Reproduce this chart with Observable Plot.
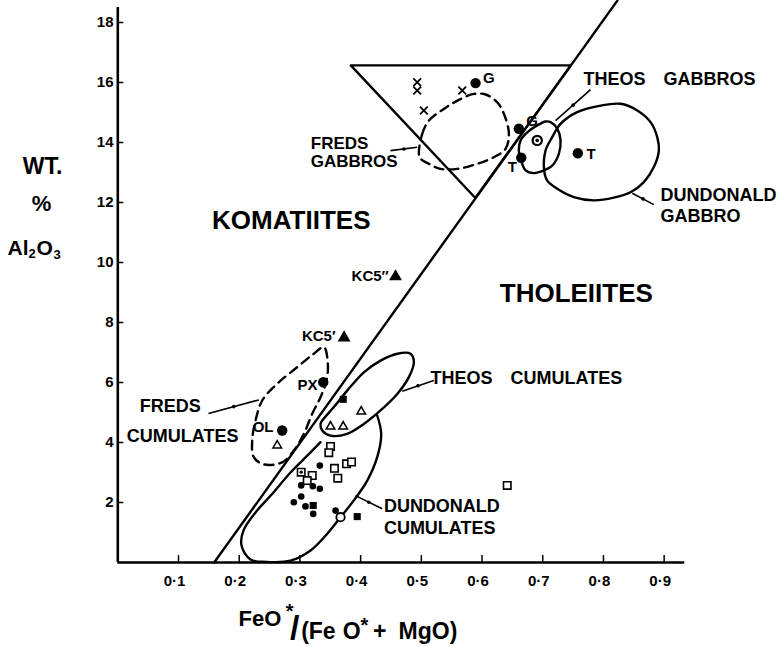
<!DOCTYPE html>
<html><head><meta charset="utf-8">
<script src="https://cdn.jsdelivr.net/npm/d3@7"></script>
<script src="https://cdn.jsdelivr.net/npm/@observablehq/plot@0.6"></script>
<style>body{margin:0;background:#fff}svg{display:block}</style>
</head><body><div id="chart"></div>
<script>
// ---- axes
const xTicks = [0.1,0.2,0.3,0.4,0.5,0.6,0.7,0.8,0.9];
const yTicks = [2,4,6,8,10,12,14,16,18];

// ---- discriminant line and gabbro triangle
const boundaryLine = [[0.1587,0],[0.823,18.73]];
const gabbroTriangle = [[0.3838,16.57],[0.7463,16.57],[0.589,12.15]];

// ---- field outlines [FeO*/(FeO*+MgO), Al2O3]
const fredsGabbros = [[0.496,13.62],[0.5015,14.29],[0.5124,14.73],[0.537,15.12],[0.5618,15.42],[0.5865,15.62],[0.6058,15.6],[0.625,15.34],[0.6371,14.9],[0.6442,14.29],[0.6387,13.79],[0.6195,13.51],[0.5921,13.29],[0.5591,13.12],[0.5316,13.12],[0.5124,13.29],[0.4987,13.46]];
const theosGabbros = [[0.7128,14.68],[0.7239,14.46],[0.7293,14.07],[0.7265,13.62],[0.7157,13.23],[0.7018,13.07],[0.6853,12.98],[0.6717,13.07],[0.6662,13.29],[0.6606,13.73],[0.6634,14.07],[0.6745,14.34],[0.6909,14.57],[0.7046,14.7]];
const dundonaldGabbro = [[0.7023,13.07],[0.7046,13.73],[0.7156,14.18],[0.7293,14.62],[0.7568,15.01],[0.7952,15.23],[0.8282,15.29],[0.8557,15.07],[0.8776,14.68],[0.8886,14.18],[0.8913,13.73],[0.883,13.18],[0.8666,12.68],[0.8446,12.34],[0.8171,12.16],[0.7842,12.07],[0.7512,12.18],[0.7239,12.46],[0.7074,12.73]];
const fredsCumulates = [[0.3394,7.18],[0.346,6.62],[0.3438,6.07],[0.3339,5.51],[0.3203,4.96],[0.3065,4.29],[0.2899,3.73],[0.2708,3.34],[0.2405,3.27],[0.224,3.51],[0.2214,4.07],[0.2269,4.73],[0.2379,5.4],[0.2626,5.96],[0.2955,6.51],[0.3229,6.96]];
const theosCumulates = [[0.3367,4.73],[0.3559,5.18],[0.3779,5.73],[0.4053,6.34],[0.4328,6.73],[0.4603,6.96],[0.4822,6.96],[0.4877,6.68],[0.4795,6.18],[0.4603,5.62],[0.4328,5.07],[0.4053,4.62],[0.3779,4.29],[0.3504,4.23],[0.3367,4.4],[0.3339,4.62]];
const dundonaldCumulates = [[0.4273,4.9],[0.4339,4.29],[0.4273,3.51],[0.4109,2.73],[0.3888,2.07],[0.3669,1.51],[0.345,0.96],[0.3175,0.4],[0.2845,0.06],[0.245,0.02],[0.2186,0.1],[0.2038,0.57],[0.2071,1.07],[0.2269,1.67],[0.2549,2.3],[0.2845,3.0],[0.3125,3.57],[0.3339,4.01]];

// ---- samples
const bigDots = [[0.5893,15.98],[0.6606,14.46],[0.6646,13.49],[0.7578,13.64],[0.3384,6.01],[0.2708,4.4]];
const ringDots = [[0.6909,14.07]];
const smallDots = [[0.3328,3.23],[0.3021,2.57],[0.3213,2.54],[0.3328,2.46],[0.3021,2.2],[0.2899,2.01],[0.3092,1.87],[0.3219,1.62],[0.3587,1.73]];
const filledTriangles = [[0.3728,7.49],[0.4575,9.53]];
const openTriangles = [[0.2626,3.9],[0.3504,4.53],[0.3713,4.53],[0.401,5.03]];
const filledSquares = [[0.3713,5.44],[0.3944,1.53],[0.3219,1.9]];
const openSquares = [[0.3504,3.87],[0.3476,3.66],[0.3569,3.14],[0.3768,3.29],[0.385,3.35],[0.3624,2.81],[0.3203,2.9],[0.312,2.73],[0.3021,3.01],[0.6415,2.57]];
const centreDots = [[0.3021,3.01]];
const openCircles = [[0.3669,1.51]];
const crosses = [[0.4932,16.01],[0.4932,15.73],[0.5041,15.07],[0.5674,15.73]];

// ---- leader lines [x1,y1,x2,y2]
const leaders = [[0.4492,13.73,0.4932,13.84],[0.7787,15.76,0.7211,14.73],[0.883,11.93,0.8474,12.31],[0.5205,6.07,0.4685,5.71],[0.4355,1.79,0.3916,2.23],[0.1494,4.97,0.2323,5.42]];

// ---- annotations
const bigLabels = [{t:"KOMATIITES",x:0.2858,y:11.4},{t:"THOLEIITES",x:0.7553,y:8.96}];
const startLabels = [
  {t:"THEOS",x:0.7671,y:16.1},{t:"GABBROS",x:0.8989,y:16.1},
  {t:"DUNDONALD",x:0.894,y:12.25},{t:"GABBRO",x:0.894,y:11.55},
  {t:"THEOS",x:0.5151,y:6.15},{t:"CUMULATES",x:0.6469,y:6.15},
  {t:"DUNDONALD",x:0.4383,y:1.86},{t:"CUMULATES",x:0.4383,y:1.15}];
const fredsGabbroLabels = [{t:"FREDS",x:0.3179,y:13.98},{t:"GABBROS",x:0.3179,y:13.35}];
const endLabels = [{t:"FREDS",x:0.1366,y:5.2},{t:"CUMULATES",x:0.1988,y:4.2}];
const sampleLabels = [{t:"KC5\u2033",x:0.4464,y:9.53},{t:"KC5\u2032",x:0.3586,y:7.53},{t:"PX",x:0.3289,y:5.9},{t:"OL",x:0.2565,y:4.5}];
const pointLabels = [{t:"G",x:0.6112,y:16.16},{t:"G",x:0.6826,y:14.72},{t:"T",x:0.6497,y:13.18},{t:"T",x:0.7798,y:13.62}];
const yTitle = [{t:"WT.",x:-0.124,y:13.2,s:23},{t:"%",x:-0.1257,y:11.95,s:22}];
const yTitleParts = [{t:"Al",x:-0.1817,y:10.48,s:21},{t:"2",x:-0.1471,y:10.3,s:13},{t:"O",x:-0.1339,y:10.48,s:21},{t:"3",x:-0.1059,y:10.25,s:13}];
const xTitleParts = [{t:"FeO",x:0.1988,y:-1.883,s:22},{t:"(Fe",x:0.302,y:-2.3,s:23},{t:"O",x:0.3705,y:-2.3,s:23},{t:"MgO)",x:0.4625,y:-2.3,s:23}];
const xTitleMid = [{t:"*",x:0.2829,y:-1.62,s:20},{t:"/",x:0.2915,y:-2.2,s:34},{t:"*",x:0.406,y:-2.1,s:20},{t:"+",x:0.4315,y:-2.3,s:23}];

const LW = 2.4;
const shape = (pts, curve, dash) => Plot.line(pts, {x: d => d[0], y: d => d[1], curve, stroke: "#000", strokeWidth: LW, strokeDasharray: dash});

const chart = Plot.plot({
  width: 779, height: 647,
  marginLeft: 117.3, marginRight: 94.7, marginTop: 7, marginBottom: 85,
  x: {domain: [0, 0.934]},
  y: {domain: [0, 18.5]},
  style: {fontFamily: "'Liberation Sans', Arial, sans-serif", fontWeight: "bold", background: "#fff", color: "#000", overflow: "visible"},
  marks: [
    Plot.ruleX([0], {y1: 0, y2: 18.5, strokeWidth: 2.6}),
    Plot.ruleY([0], {x1: 0, x2: 0.934, strokeWidth: 2.6}),
    Plot.ruleX(xTicks, {x: d => d, y1: 0, y2: 0.23, strokeWidth: 1.5}),
    Plot.ruleY(yTicks, {y: d => d, x1: 0, x2: 0.0099, strokeWidth: 1.5}),
    Plot.axisX({ticks: xTicks, tickSize: 0, tickPadding: 12.6, tickFormat: d => "0\u00b7" + Math.round(d * 10), fontSize: 15, dx: -4, label: null}),
    Plot.axisY({ticks: yTicks, tickSize: 0, tickPadding: 4.3, fontSize: 15, label: null}),
    shape(boundaryLine, "linear"),
    shape(gabbroTriangle, "linear-closed"),
    shape(fredsGabbros, "catmull-rom-closed", "9,6"),
    shape(fredsCumulates, "catmull-rom-closed", "9,6"),
    shape(theosGabbros, "catmull-rom-closed"),
    shape(dundonaldGabbro, "catmull-rom-closed"),
    shape(theosCumulates, "catmull-rom-closed"),
    shape(dundonaldCumulates, "catmull-rom"),
    Plot.link(leaders, {x1: d => d[0], y1: d => d[1], x2: d => d[2], y2: d => d[3], stroke: "#000", strokeWidth: 1.6}),
    Plot.dot(leaders, {x: d => (d[0] + d[2]) / 2, y: d => (d[1] + d[3]) / 2, r: 1.8, fill: "#000"}),
    Plot.dot(bigDots, {x: d => d[0], y: d => d[1], r: 5.2, fill: "#000"}),
    Plot.dot(ringDots, {x: d => d[0], y: d => d[1], r: 4.6, fill: "#fff", stroke: "#000", strokeWidth: 2.2}),
    Plot.dot(ringDots, {x: d => d[0], y: d => d[1], r: 1.8, fill: "#000"}),
    Plot.dot(smallDots, {x: d => d[0], y: d => d[1], r: 3.3, fill: "#000"}),
    Plot.dot(filledTriangles, {x: d => d[0], y: d => d[1], r: 4.8, symbol: "triangle", fill: "#000"}),
    Plot.dot(openTriangles, {x: d => d[0], y: d => d[1], r: 3.2, symbol: "triangle", fill: "#fff", stroke: "#000", strokeWidth: 1.5}),
    Plot.dot(filledSquares, {x: d => d[0], y: d => d[1], r: 4, symbol: "square", fill: "#000"}),
    Plot.dot(openSquares, {x: d => d[0], y: d => d[1], r: 4.2, symbol: "square", fill: "#fff", stroke: "#000", strokeWidth: 1.6}),
    Plot.dot(centreDots, {x: d => d[0], y: d => d[1], r: 1.6, fill: "#000"}),
    Plot.dot(openCircles, {x: d => d[0], y: d => d[1], r: 4.2, fill: "#fff", stroke: "#000", strokeWidth: 1.8}),
    Plot.dot(crosses, {x: d => d[0], y: d => d[1], r: 3.6, symbol: "times", stroke: "#000", strokeWidth: 1.8}),
    Plot.text(bigLabels, {x: "x", y: "y", text: "t", fontSize: 26}),
    Plot.text(startLabels, {x: "x", y: "y", text: "t", fontSize: 18, textAnchor: "start"}),
    Plot.text(fredsGabbroLabels, {x: "x", y: "y", text: "t", fontSize: 17, textAnchor: "start"}),
    Plot.text(endLabels, {x: "x", y: "y", text: "t", fontSize: 18, textAnchor: "end"}),
    Plot.text(sampleLabels, {x: "x", y: "y", text: "t", fontSize: 15, textAnchor: "end"}),
    Plot.text(pointLabels, {x: "x", y: "y", text: "t", fontSize: 15}),
    Plot.text(yTitle, {x: "x", y: "y", text: "t", fontSize: "s"}),
    Plot.text(yTitleParts, {x: "x", y: "y", text: "t", fontSize: "s", textAnchor: "start"}),
    Plot.text(xTitleParts, {x: "x", y: "y", text: "t", fontSize: "s", textAnchor: "start"}),
    Plot.text(xTitleMid, {x: "x", y: "y", text: "t", fontSize: "s"})
  ]
});
document.getElementById("chart").appendChild(chart);
</script>
</body></html>
